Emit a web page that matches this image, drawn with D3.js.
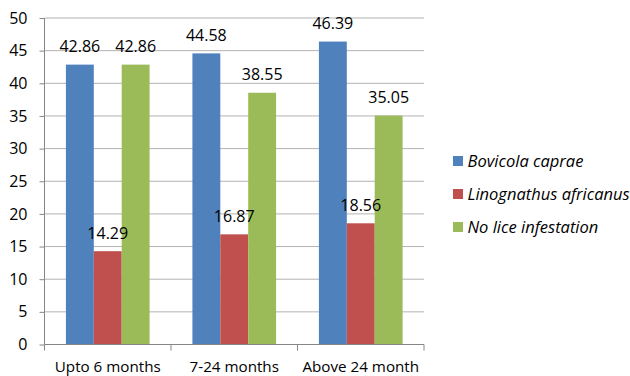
<!DOCTYPE html>
<html><head><meta charset="utf-8">
<script src="https://cdn.jsdelivr.net/npm/d3@7/dist/d3.min.js"></script>
<style>body{margin:0;background:#fff}svg{display:block}</style>
</head><body><svg id="c" width="630" height="376"></svg>
<script>
const categories = ["Upto 6 months", "7-24 months", "Above 24 month"];
const seriesNames = ["Bovicola caprae", "Linognathus africanus", "No lice infestation"];
const bovicola = [42.86, 44.58, 46.39];
const linognathus = [14.29, 16.87, 18.56];
const noLice = [42.86, 38.55, 35.05];
const yTicks = [0, 5, 10, 15, 20, 25, 30, 35, 40, 45, 50];
const colors = ["#4f81bd", "#c0504d", "#9bbb59"];

const series = [bovicola, linognathus, noLice];
const svg = d3.select("#c");
const font = "'Open Sans', sans-serif";
const L = 44.5, R = 424, T = 18, B = 344.5;

const x = d3.scaleBand().domain(categories).range([L, R]).paddingInner(0).paddingOuter(0);
const inner = d3.scaleBand().domain(d3.range(series.length)).range([0, x.bandwidth()]).paddingInner(0).paddingOuter(0.768);
const y = d3.scaleLinear().domain([0, 50]).range([B, T]);

// gridlines
svg.append("g").selectAll("line").data(yTicks.filter(d => d > 0)).join("line")
  .attr("x1", L).attr("x2", R).attr("y1", d => y(d)).attr("y2", d => y(d))
  .attr("stroke", "#b3b3b3").attr("stroke-width", 1);

// bars
const groups = svg.append("g").selectAll("g").data(categories).join("g")
  .attr("transform", c => `translate(${x(c)},0)`);
groups.selectAll("rect").data((c, i) => series.map((s, k) => ({k, v: s[i]}))).join("rect")
  .attr("x", d => inner(d.k)).attr("width", inner.bandwidth())
  .attr("y", d => y(d.v)).attr("height", d => B - y(d.v))
  .attr("fill", d => colors[d.k]);
groups.selectAll("text").data((c, i) => series.map((s, k) => ({k, v: s[i]}))).join("text")
  .attr("x", d => inner(d.k) + inner.bandwidth() / 2).attr("y", d => y(d.v) - 12.5)
  .attr("text-anchor", "middle").attr("font-family", font).attr("font-size", 16)
  .attr("fill", "#000").text(d => d.v.toFixed(2));

// y axis
const yAxis = svg.append("g").attr("transform", `translate(${L},0)`)
  .call(d3.axisLeft(y).tickValues(yTicks).tickSize(5).tickPadding(12).tickFormat(d3.format("d")));
yAxis.select(".domain").attr("stroke", "#868686").attr("d", `M-0,${T}V${B}`);
yAxis.selectAll(".tick line").attr("stroke", "#868686");
yAxis.selectAll("text").attr("font-family", font).attr("font-size", 16).attr("fill", "#000");

// x axis
const xAxis = svg.append("g").attr("transform", `translate(0,${B})`)
  .call(d3.axisBottom(x).tickSize(0).tickPadding(17));
xAxis.select(".domain").attr("stroke", "#868686").attr("d", `M${L},0H${R}`);
xAxis.selectAll("text").attr("font-family", font).attr("font-size", 15.2).attr("fill", "#000");
svg.append("g").selectAll("line").data(d3.range(categories.length + 1)).join("line")
  .attr("x1", i => L + i * x.step()).attr("x2", i => L + i * x.step())
  .attr("y1", B).attr("y2", B + 6).attr("stroke", "#868686");

// legend
const lg = svg.append("g").attr("transform", "translate(453,161)");
const items = lg.selectAll("g").data(seriesNames).join("g")
  .attr("transform", (d, i) => `translate(0,${i * 33})`);
items.append("rect").attr("x", 0).attr("y", -5).attr("width", 10).attr("height", 10)
  .attr("fill", (d, i) => colors[i]);
items.append("text").attr("x", 14.5).attr("y", 0).attr("dy", "0.36em")
  .attr("font-family", font).attr("font-style", "italic").attr("font-size", 16.5)
  .attr("fill", "#000").text(d => d);
</script></body></html>
